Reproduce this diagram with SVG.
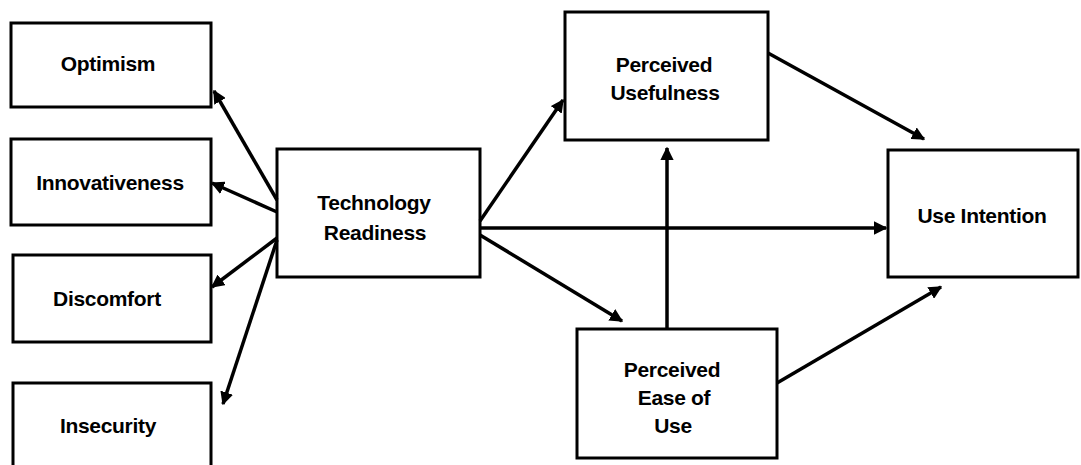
<svg xmlns="http://www.w3.org/2000/svg" width="1081" height="465" viewBox="0 0 1081 465">
<style>
.box{fill:#fff;stroke:#000;stroke-width:3}
.t{font-family:"Liberation Sans",Arial,sans-serif;font-weight:bold;font-size:21px;fill:#000;text-anchor:middle;letter-spacing:-0.3px}
.c{stroke:#000;stroke-width:3.5;fill:none;marker-end:url(#ah)}
</style>
<defs>
<marker id="ah" viewBox="0 0 10 10" refX="9" refY="5" markerWidth="3.8" markerHeight="3.8" orient="auto" markerUnits="strokeWidth">
<path d="M0,0 L10,5 L0,10 z" fill="#000"/>
</marker>
</defs>
<rect width="1081" height="465" fill="#fff"/>
<g id="optimism"><rect class="box" x="11" y="23" width="200" height="84"/><text class="t" x="108" y="71">Optimism</text></g>
<g id="innovativeness"><rect class="box" x="11" y="139" width="200" height="86"/><text class="t" x="110" y="190">Innovativeness</text></g>
<g id="discomfort"><rect class="box" x="13" y="255" width="198" height="87"/><text class="t" x="107" y="306">Discomfort</text></g>
<g id="insecurity"><rect class="box" x="13" y="383" width="198" height="90"/><text class="t" x="108" y="433">Insecurity</text></g>
<g id="tech-readiness"><rect class="box" x="277" y="149" width="203" height="128"/><text class="t" x="374" y="210">Technology</text><text class="t" x="375" y="240">Readiness</text></g>
<g id="perceived-usefulness"><rect class="box" x="565" y="12" width="203" height="128"/><text class="t" x="664" y="72">Perceived</text><text class="t" x="665" y="100">Usefulness</text></g>
<g id="use-intention"><rect class="box" x="888" y="150" width="190" height="127"/><text class="t" x="982" y="223">Use Intention</text></g>
<g id="peou"><rect class="box" x="577" y="329" width="200" height="129"/><text class="t" x="672" y="377">Perceived</text><text class="t" x="674" y="405">Ease of</text><text class="t" x="673" y="433">Use</text></g>
<g id="connectors">
<line class="c" x1="277" y1="200" x2="214" y2="91"/>
<line class="c" x1="277" y1="212" x2="212" y2="183"/>
<line class="c" x1="277" y1="238" x2="212" y2="287"/>
<line class="c" x1="277" y1="240" x2="223" y2="404"/>
<line class="c" x1="480" y1="221" x2="563" y2="100"/>
<line class="c" x1="480" y1="228" x2="886" y2="228"/>
<line class="c" x1="480" y1="235" x2="622" y2="321"/>
<line class="c" x1="667" y1="329" x2="667" y2="148"/>
<line class="c" x1="768" y1="53" x2="924" y2="139"/>
<line class="c" x1="777" y1="383" x2="941" y2="287"/>
</g>
</svg>
